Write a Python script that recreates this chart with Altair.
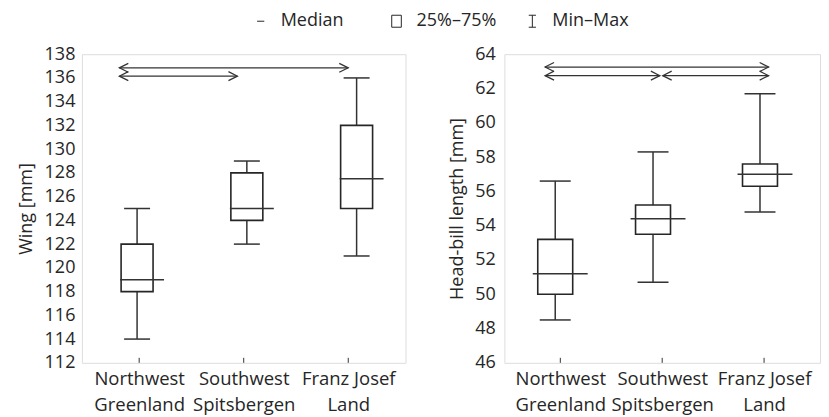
import altair as alt
import pandas as pd

# ---------------- data ----------------
cat_lines = [["Northwest", "Greenland"], ["Southwest", "Spitsbergen"], ["Franz Josef", "Land"]]
cat_index = [0, 1, 2]

# box centres (in category units, as drawn)
wing_pos = [-0.02, 1.03, 2.08]
wing_min = [114, 122, 121]
wing_q1 = [118, 124, 125]
wing_med = [119, 125, 127.5]
wing_q3 = [122, 128, 132]
wing_max = [125, 129, 136]

hb_pos = [-0.05, 0.91, 1.96]
hb_min = [48.5, 50.7, 54.8]
hb_q1 = [50.0, 53.5, 56.3]
hb_med = [51.2, 54.4, 57.0]
hb_q3 = [53.2, 55.2, 57.6]
hb_max = [56.6, 58.3, 61.7]

# double-headed significance arrows: start, end (category units), level (y)
wing_arrow_start = [-0.19, -0.19]
wing_arrow_end = [2.0, 0.94]
wing_arrow_level = [136.85, 136.15]

hb_arrow_start = [-0.15, -0.15, 1.005]
hb_arrow_end = [2.045, 0.977, 2.045]
hb_arrow_level = [63.25, 62.75, 62.75]

legend_items = ["Median", "25%\u201375%", "Min\u2013Max"]

# ---------------- styling ----------------
FONT = "Open Sans"
INK = "#262626"
LINE = "#333333"
LEFT_HEAD = "M2,-1L0,0L2,1"
RIGHT_HEAD = "M-2,-1L0,0L-2,1"
legend_shapes = ["M-0.6,0L0.6,0", "M-0.8,-1L0.8,-1L0.8,1L-0.8,1Z", "M-0.6,-1L0.6,-1M0,-1L0,1M-0.6,1L0.6,1"]

label_expr = "[" + ",".join("[" + ",".join(f"'{s}'" for s in c) + "]" for c in cat_lines) + "][datum.value]"


def panel(pos, mins, q1s, meds, q3s, maxs, y_dom, y_title, a_start, a_end, a_level,
          width, box_w, cap_w, med_w, label_pad, title_pad, with_legend=False):
    df = pd.DataFrame({"pos": pos, "min": mins, "q1": q1s, "med": meds, "q3": q3s, "max": maxs})
    arr = pd.DataFrame({"start": a_start, "end": a_end, "level": a_level})
    ticks_df = pd.DataFrame({"idx": cat_index})

    xs = alt.Scale(domain=[-0.5, 2.5], nice=False, zero=False)
    ys = alt.Scale(domain=y_dom, nice=False, zero=False)
    xaxis = alt.Axis(values=cat_index, labelExpr=label_expr, title=None, grid=False, ticks=False,
                     domain=False, labelPadding=7, labelLineHeight=26, labelFontSize=18.5,
                     labelFont=FONT, labelColor=INK, labelOverlap=False, labelFlush=False,
                     labelBound=False)
    yaxis = alt.Axis(values=list(range(y_dom[0], y_dom[1] + 1, 2)), title=y_title, grid=False,
                     ticks=False, domain=False, labelPadding=label_pad, labelFontSize=18,
                     labelFont=FONT, labelColor=INK, titleFont=FONT, titleFontSize=18,
                     titleFontWeight="normal", titleColor=INK, titlePadding=title_pad,
                     labelFlush=False, labelOverlap=False, labelSeparation=0)

    def X(f):
        return alt.X(f, scale=xs, axis=xaxis)

    def Y(f):
        return alt.Y(f, scale=ys, axis=yaxis)

    base = alt.Chart(df)
    whisk = base.mark_rule(color=LINE, strokeWidth=1.5).encode(
        x=X("pos:Q"), y=Y("min:Q"), y2="max:Q")
    cap_top = base.mark_tick(orient="horizontal", size=cap_w, thickness=1.5, color=LINE, opacity=1).encode(
        x=X("pos:Q"), y=Y("max:Q"))
    cap_bot = base.mark_tick(orient="horizontal", size=cap_w, thickness=1.5, color=LINE, opacity=1).encode(
        x=X("pos:Q"), y=Y("min:Q"))
    box = base.mark_bar(width=box_w, fill="white", stroke=INK, strokeWidth=1.6).encode(
        x=X("pos:Q"), y=Y("q1:Q"), y2="q3:Q")
    med = base.mark_tick(orient="horizontal", size=med_w, thickness=1.5, color=LINE, opacity=1,
                         xOffset=5).encode(x=X("pos:Q"), y=Y("med:Q"))

    abase = alt.Chart(arr)
    arrow_line = abase.mark_rule(color=LINE, strokeWidth=1.2).encode(
        x=X("start:Q"), x2="end:Q", y=Y("level:Q"))
    head_l = abase.mark_point(shape=LEFT_HEAD, size=81, filled=False, color=LINE, strokeWidth=1.2,
                              opacity=1).encode(x=X("start:Q"), y=Y("level:Q"))
    head_r = abase.mark_point(shape=RIGHT_HEAD, size=81, filled=False, color=LINE, strokeWidth=1.2,
                              opacity=1).encode(x=X("end:Q"), y=Y("level:Q"))

    xticks = alt.Chart(ticks_df).mark_rule(color=LINE, strokeWidth=1).encode(
        x=X("idx:Q"), y=alt.value(309), y2=alt.value(304))

    layers = [whisk, cap_top, cap_bot, box, med, arrow_line, head_l, head_r, xticks]

    if with_legend:
        leg_df = pd.DataFrame({"item": legend_items})
        leg = alt.Chart(leg_df).mark_point(opacity=0, filled=False).encode(
            shape=alt.Shape("item:N", sort=legend_items,
                            scale=alt.Scale(domain=legend_items, range=legend_shapes),
                            legend=alt.Legend(orient="none", legendX=170, legendY=-42,
                                              direction="horizontal", title=None,
                                              gridAlign="all",
                                              symbolOpacity=1, symbolStrokeColor=INK,
                                              symbolFillColor="white", symbolStrokeWidth=1,
                                              symbolSize=144, labelFont=FONT, labelFontSize=18,
                                              labelColor=INK, labelOffset=11, columnPadding=27,
                                              labelLimit=200)))
        layers.append(leg)

    return alt.layer(*layers).properties(width=width, height=309)


left = panel(wing_pos, wing_min, wing_q1, wing_med, wing_q3, wing_max, [112, 138], "Wing [mm]",
             wing_arrow_start, wing_arrow_end, wing_arrow_level,
             width=324, box_w=32, cap_w=26, med_w=44, label_pad=7, title_pad=9, with_legend=True)
right = panel(hb_pos, hb_min, hb_q1, hb_med, hb_q3, hb_max, [46, 64], "Head-bill length [mm]",
              hb_arrow_start, hb_arrow_end, hb_arrow_level,
              width=316, box_w=35, cap_w=31, med_w=55, label_pad=9, title_pad=8)

chart = alt.hconcat(left, right, spacing=41).properties(
    padding={"left": 8, "top": 4, "right": 0, "bottom": 0}
).configure_view(stroke="#666666", strokeWidth=1.5).configure_axis(
    labelOverlap=False
).configure(font=FONT)

chart.save("out.html", embed_options={"renderer": "svg", "actions": False})
